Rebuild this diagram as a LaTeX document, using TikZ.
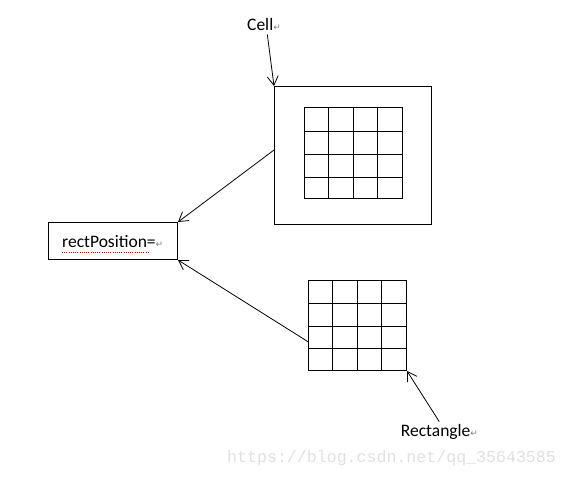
\documentclass[tikz,border=0pt]{standalone}
\usepackage{fontspec}
\setmainfont{Carlito}
\newfontfamily\markfont{DejaVu Sans}
\newfontfamily\wmfont{Liberation Mono}
\usetikzlibrary{arrows.meta}
\newcommand{\retmark}{{\markfont\fontsize{9}{9}\selectfont\color{gray}↵}}
\begin{document}
\begin{tikzpicture}[x=1pt,y=-1pt,
  boxstyle/.style={draw, line width=1pt, inner sep=0pt},
  lbl/.style={inner sep=0pt, anchor=base west, font=\fontsize{17.5}{20}\selectfont},
  conn/.style={line width=0.8pt, -{Straight Barb[length=9pt,width=11pt,line width=0.8pt]}},
  gridline/.style={line width=1pt}]
\useasboundingbox (0,0) rectangle (566,477);
% boxes
\node[boxstyle, minimum width=157pt, minimum height=138pt] (cellbox) at (353,155.5) {};
\node[boxstyle, minimum width=98pt, minimum height=91pt] (cellgrid) at (353.5,153) {};
\node[boxstyle, minimum width=98pt, minimum height=90pt] (rect) at (357.5,325.5) {};
\node[boxstyle, minimum width=129pt, minimum height=37pt] (posbox) at (113,241) {};
% grid lines
\foreach \x in {328.5,353.5,377.5} \draw[gridline] (\x,107.5) -- (\x,198.5);
\foreach \y in {131.5,154.5,177.5} \draw[gridline] (304.5,\y) -- (402.5,\y);
\foreach \x in {332.5,357.5,381.5} \draw[gridline] (\x,280.5) -- (\x,370.5);
\foreach \y in {303.5,326.5,348.5} \draw[gridline] (308.5,\y) -- (406.5,\y);
% labels
\node[lbl] (celltxt) at (247,30) {Cell\retmark};
\node[lbl] (recttxt) at (400.7,436) {Rectangle\retmark};
\node[lbl] (postxt) at (62,247.7) {rectPosition=\retmark};
\draw[red!85!black, line width=0.9pt, dash pattern=on 1pt off 1.2pt] (62,252.5) -- (150,252.5);
% watermark
\node[inner sep=0pt, anchor=base west, font=\wmfont\fontsize{16.6}{18}\selectfont, text=black!12] (wm) at (227,462) {https://blog.csdn.net/qq\_35643585};
% connectors
\coordinate (cellfrom) at (267.3,34.3);
\coordinate (rectfrom) at (439.3,421.7);
\draw[conn] (cellfrom) -- (cellbox.north west);
\draw[conn] ([yshift=5.5pt]cellbox.west) -- (posbox.north east);
\draw[conn] ([yshift=-16.2pt]rect.west) -- (posbox.south east);
\draw[conn] (rectfrom) -- (rect.south east);
\end{tikzpicture}
\end{document}
